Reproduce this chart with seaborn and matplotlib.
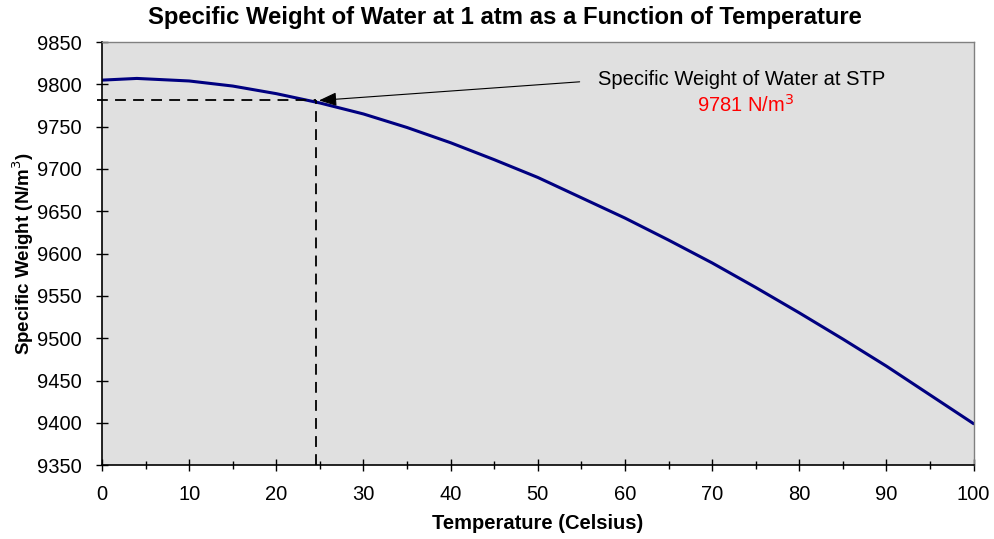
import matplotlib
matplotlib.use("Agg")
import matplotlib.pyplot as plt
import seaborn as sns
import pandas as pd

temperature = [0, 4, 10, 15, 20, 25, 30, 35, 40, 45, 50, 55, 60, 65, 70, 75, 80, 85, 90, 95, 100]
specific_weight = [9805, 9807, 9804, 9798, 9789, 9778, 9765, 9749, 9731, 9711, 9690,
                   9666, 9642, 9616, 9589, 9560, 9530, 9499, 9467, 9433, 9399]
stp_temp = 24.6
stp_weight = 9781
x_ticks = list(range(0, 101, 10))
y_ticks = list(range(9350, 9851, 50))

sns.set_theme(style="white")
plt.rcParams['font.family'] = ['Liberation Sans', 'DejaVu Sans']
plt.rcParams['text.color'] = 'black'
plt.rcParams['axes.labelcolor'] = 'black'
plt.rcParams['xtick.color'] = 'black'
plt.rcParams['ytick.color'] = 'black'

df = pd.DataFrame({"Temperature": temperature, "Weight": specific_weight})

fig = plt.figure(figsize=(9.95, 5.39), dpi=100)
ax = fig.add_axes([0.1025, 0.137, 0.876, 0.785])
ax.set_facecolor("#E0E0E0")

sns.lineplot(data=df, x="Temperature", y="Weight", ax=ax, color="#000080", linewidth=2.2)

ax.plot([-0.6, stp_temp], [stp_weight, stp_weight], color="black", linestyle=(0, (6, 4)),
        linewidth=1.3, clip_on=False)
ax.plot([stp_temp, stp_temp], [9350, stp_weight], color="black", linestyle=(0, (6, 4)), linewidth=1.3)

ax.annotate("", xy=(stp_temp + 0.3, stp_weight), xytext=(54.8, 9803),
            arrowprops=dict(arrowstyle="-|>,head_length=0.9,head_width=0.35", color="black", lw=0.8,
                            shrinkA=0, shrinkB=0))
ax.text(73.4, 9806, "Specific Weight of Water at STP", ha="center", va="center", fontsize=14.5)
ax.text(73.8, 9776, "9781 N/m$^3$", ha="center", va="center", fontsize=14.5, color="#FF0000")

ax.set_xlim(0, 100)
ax.set_ylim(9350, 9850)
ax.set_xticks(x_ticks)
ax.set_xticks(list(range(5, 100, 10)), minor=True)
ax.set_yticks(y_ticks)
ax.tick_params(axis="x", which="major", direction="inout", length=9, width=1, labelsize=14.5, pad=10)
ax.tick_params(axis="y", which="major", direction="inout", length=9, width=1, labelsize=14.5, pad=10)
ax.tick_params(axis="x", which="minor", direction="inout", length=6, width=1, bottom=True)
ax.tick_params(axis="y", left=True)
ax.tick_params(axis="x", bottom=True)

for side in ["top", "right"]:
    ax.spines[side].set_color("#808080")
    ax.spines[side].set_linewidth(1)
for side in ["left", "bottom"]:
    ax.spines[side].set_color("black")
    ax.spines[side].set_linewidth(1.2)

ax.set_xlabel("Temperature (Celsius)", fontsize=14.5, fontweight="bold", labelpad=7)
ax.set_ylabel("Specific Weight (N/m$^3$)", fontsize=13.5, fontweight="bold")
ax.yaxis.set_label_coords(-0.076, 0.5)
ax.set_title("Specific Weight of Water at 1 atm as a Function of Temperature", fontsize=17.2,
             fontweight="bold", x=0.462, pad=13)

fig.savefig("out.png", dpi=100)
